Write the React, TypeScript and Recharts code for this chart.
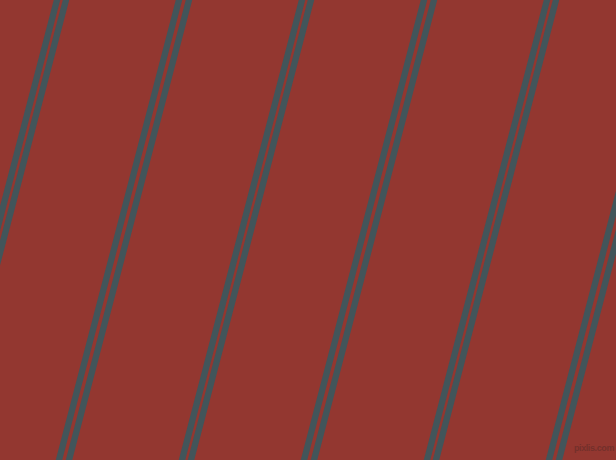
import React from 'react';
import { ComposedChart, Line, XAxis, YAxis } from 'recharts';

// x positions of each stripe where it meets the top edge (y = 0) and bottom edge (y = 460)
const stripeTopX = [-66, -56, 57, 66, 179, 189, 302, 311, 424, 434, 547, 556, 669, 679];
const stripeBottomX = [-186, -176, -63, -54, 59, 69, 182, 191, 304, 314, 427, 436, 549, 559];
const edgeY = [0, 460];

const BG = '#933730';
const STRIPE = '#42555a';

const W = 616;
const H = 460;

const stripes = stripeTopX.map((top, i) => [
  { x: top, y: edgeY[0] },
  { x: stripeBottomX[i], y: edgeY[1] },
]);

export default function App() {
  return (
    <div style={{ position: 'absolute', left: 0, top: 0, width: W, height: H, background: BG, overflow: 'hidden' }}>
      <ComposedChart width={W} height={H} margin={{ top: 0, right: 0, bottom: 0, left: 0 }}>
        <XAxis type="number" dataKey="x" domain={[0, W]} allowDataOverflow hide />
        <YAxis type="number" dataKey="y" domain={[0, H]} reversed allowDataOverflow hide />
        {stripes.map((d, i) => (
          <Line
            key={i}
            data={d}
            dataKey="y"
            type="linear"
            stroke={STRIPE}
            strokeWidth={6.3}
            strokeLinecap="square"
            dot={false}
            activeDot={false}
            isAnimationActive={false}
          />
        ))}
      </ComposedChart>
      <div
        style={{
          position: 'absolute',
          right: 2,
          top: 443,
          fontFamily: '"Liberation Sans", Arial, sans-serif',
          fontWeight: 'bold',
          fontSize: 9,
          letterSpacing: '-0.4px',
          color: '#74302b',
          lineHeight: '11px',
        }}
      >
        pixlis.com
      </div>
    </div>
  );
}
